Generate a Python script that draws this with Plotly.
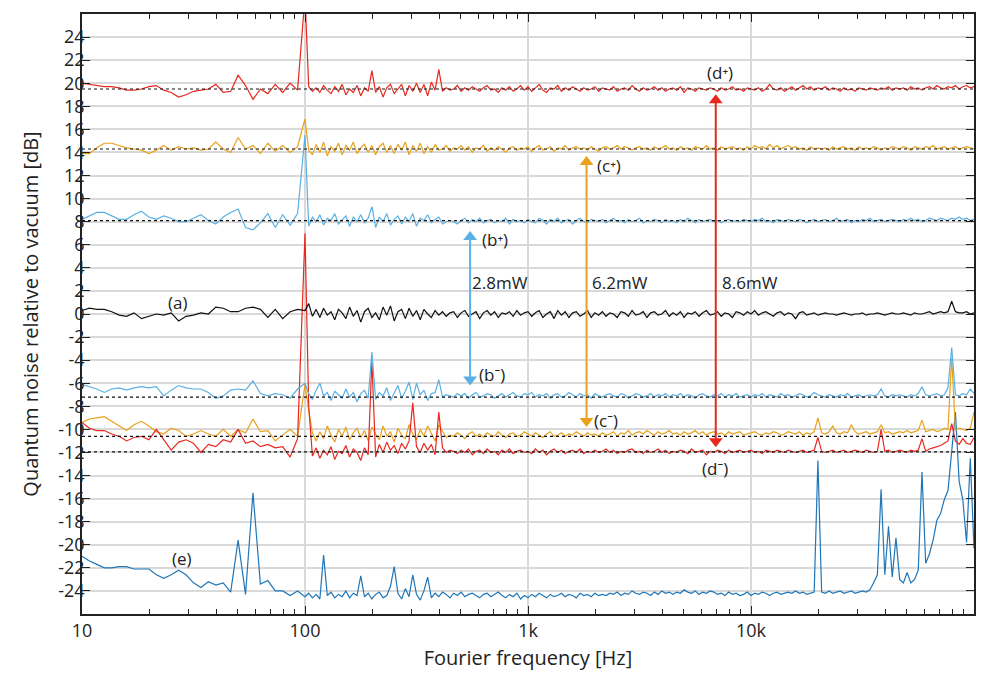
import numpy as np
import plotly.graph_objects as go

# Frequency bins: 30 log bins in 10-100 Hz, then 60 per decade up to 100 kHz
F_LOW = np.geomspace(10, 100, 31)[:-1]
F_HIGH = np.geomspace(100, 1e5, 181)
freq = np.concatenate([F_LOW, F_HIGH])

# Noise spectra relative to vacuum [dB]
d_plus = [
    20.0, 19.9, 19.8, 19.7, 19.7, 19.6, 19.4, 19.4, 19.5, 19.7,
    19.8, 19.4, 19.2, 18.8, 19.0, 19.3, 19.4, 19.5, 19.9, 19.2,
    19.3, 20.7, 19.8, 18.6, 19.5, 19.1, 19.9, 19.2, 20.0, 19.4,
    27.5, 19.7, 19.3, 19.6, 19.2, 19.8, 19.4, 19.1, 19.7, 19.3,
    19.9, 19.0, 19.5, 19.2, 19.8, 18.9, 19.6, 19.3, 21.1, 19.2,
    19.7, 18.8, 19.6, 19.9, 19.1, 19.5, 19.9, 18.9, 19.8, 19.3,
    20.0, 19.2, 19.9, 18.9, 20.1, 19.4, 21.2, 19.3, 19.6, 19.4,
    19.5, 19.8, 19.3, 19.6, 19.4, 19.7, 19.5, 19.3, 19.6, 19.8,
    19.4, 19.5, 19.2, 19.6, 19.4, 19.7, 19.3, 19.5, 19.8, 19.4,
    19.7, 19.3, 19.6, 19.9, 19.4, 19.2, 19.6, 19.5, 19.8, 19.3,
    19.6, 19.4, 19.7, 19.5, 19.3, 19.6, 19.4, 19.5, 19.7, 19.3,
    19.6, 19.5, 19.4, 19.7, 19.3, 19.5, 19.6, 19.4, 19.8, 19.5,
    19.3, 19.6, 19.4, 19.5, 19.7, 19.4, 19.6, 19.3, 19.5, 19.6,
    19.4, 19.7, 19.2, 19.6, 19.5, 19.3, 19.6, 19.5, 19.4, 19.6,
    19.5, 19.3, 19.6, 19.4, 19.5, 19.7, 19.4, 19.5, 19.3, 19.6,
    19.5, 19.4, 19.6, 19.3, 19.5, 19.9, 19.5, 19.4, 19.6, 19.3,
    19.5, 19.7, 19.4, 19.6, 19.8, 19.5, 19.7, 19.4, 19.6, 19.5,
    19.7, 19.4, 19.6, 19.5, 19.3, 19.6, 19.4, 19.5, 19.3, 19.6,
    19.5, 19.4, 19.6, 19.5, 19.4, 19.6, 19.5, 19.7, 19.4, 19.6,
    19.5, 19.6, 19.4, 19.7, 19.5, 19.6, 19.4, 19.6, 19.7, 19.5,
    19.8, 19.6, 19.5, 19.7, 19.6, 19.8, 19.5, 19.7, 19.8, 19.6,
    19.7,
]

c_plus = [
    13.9, 13.9, 14.4, 14.8, 14.8, 14.6, 14.4, 14.3, 14.2, 13.9,
    14.2, 14.6, 14.2, 14.5, 14.3, 14.4, 14.2, 14.3, 14.9, 14.3,
    14.0, 15.3, 14.3, 14.6, 13.9, 14.8, 14.1, 14.6, 14.0, 14.5,
    16.9, 14.2, 13.8, 14.7, 14.0, 14.9, 13.7, 14.5, 14.1, 14.8,
    13.8, 14.6, 14.2, 14.9, 13.9, 14.4, 14.7, 14.0, 14.6, 13.8,
    14.5, 14.8, 14.0, 14.6, 13.9, 14.7, 14.2, 14.9, 13.8, 14.6,
    14.1, 14.8, 13.9, 14.5, 14.0, 14.7, 14.2, 14.3, 14.6, 14.1,
    14.4, 14.3, 14.6, 14.2, 14.5, 14.0, 14.4, 14.3, 14.6, 14.1,
    14.4, 14.2, 14.5, 14.3, 14.0, 14.4, 14.5, 14.2, 14.4, 14.3,
    14.5, 14.1, 14.4, 14.6, 14.2, 14.3, 14.5, 14.1, 14.4, 14.3,
    14.6, 14.2, 14.4, 14.5, 14.3, 14.4, 14.2, 14.5, 14.3, 14.1,
    14.4, 14.5, 14.3, 14.4, 14.6, 14.3, 14.5, 14.4, 14.2, 14.4,
    14.5, 14.3, 14.4, 14.2, 14.5, 14.3, 14.4, 14.6, 14.3, 14.4,
    14.2, 14.5, 14.3, 14.4, 14.2, 14.5, 14.4, 14.3, 14.6, 14.3,
    14.4, 14.2, 14.5, 14.3, 14.4, 14.5, 14.3, 14.4, 14.2, 14.5,
    14.3, 14.6, 14.4, 14.5, 14.3, 14.7, 14.4, 14.6, 14.3, 14.5,
    14.6, 14.4, 14.5, 14.3, 14.4, 14.2, 14.5, 14.3, 14.4, 14.3,
    14.4, 14.2, 14.5, 14.3, 14.4, 14.5, 14.3, 14.4, 14.2, 14.5,
    14.3, 14.4, 14.3, 14.5, 14.4, 14.2, 14.4, 14.3, 14.5, 14.4,
    14.3, 14.5, 14.4, 14.2, 14.5, 14.4, 14.3, 14.5, 14.4, 14.6,
    14.3, 14.4, 14.5, 14.3, 14.4, 14.5, 14.3, 14.4, 14.5, 14.4,
    14.3,
]

b_plus = [
    8.2, 8.5, 8.8, 8.8, 8.5, 8.2, 8.2, 8.6, 8.9, 8.4,
    8.2, 8.5, 8.3, 8.0, 8.0, 8.3, 8.6, 8.1, 7.8, 8.4,
    8.8, 9.1, 7.5, 7.3, 7.9, 8.7, 7.5, 8.6, 7.7, 8.7,
    15.5, 7.6, 8.4, 8.0, 8.6, 7.7, 8.3, 8.1, 8.7, 7.8,
    8.2, 8.5, 7.6, 8.4, 8.0, 8.6, 7.9, 8.3, 9.3, 7.5,
    8.4, 8.0, 8.7, 7.7, 8.2, 8.5, 7.8, 8.4, 8.0, 8.7,
    7.6, 8.3, 8.1, 8.6, 7.9, 8.2, 8.4, 7.8, 8.0, 8.1,
    8.0, 7.8, 8.1, 8.3, 7.9, 8.2, 8.0, 8.3, 7.9, 8.1,
    8.2, 7.9, 8.1, 8.0, 8.3, 7.8, 8.2, 8.0, 8.1, 7.9,
    8.2, 8.0, 7.9, 8.3, 8.1, 7.8, 8.2, 8.0, 8.3, 7.9,
    8.1, 8.2, 7.8, 8.1, 8.3, 8.0, 7.9, 8.2, 8.1, 8.0,
    8.2, 7.9, 8.1, 8.3, 8.0, 8.1, 7.9, 8.2, 8.0, 8.1,
    8.3, 7.9, 8.1, 8.0, 8.2, 8.1, 7.9, 8.2, 8.0, 8.1,
    7.9, 8.2, 8.0, 8.3, 8.1, 7.9, 8.2, 8.0, 8.1, 8.2,
    8.0, 8.1, 7.9, 8.1, 8.2, 8.0, 8.1, 8.0, 8.2, 8.1,
    8.0, 8.2, 8.1, 8.3, 8.0, 8.1, 7.9, 8.2, 8.1, 8.0,
    8.2, 8.1, 8.0, 8.2, 8.1, 7.9, 8.1, 8.2, 8.0, 8.1,
    8.2, 8.0, 8.1, 8.3, 8.0, 8.1, 8.2, 7.9, 8.1, 8.0,
    8.2, 8.1, 8.3, 8.0, 8.1, 8.2, 8.0, 8.1, 8.2, 8.1,
    8.0, 8.2, 8.1, 8.3, 8.1, 8.2, 8.0, 8.1, 8.3, 8.2,
    8.1, 8.3, 8.2, 8.1, 8.3, 8.2, 8.4, 8.2, 8.3, 8.1,
    8.2,
]

a_vac = [
    0.3, 0.5, 0.4, 0.4, 0.2, -0.1, -0.2, 0.1, -0.4, -0.2,
    0.0, -0.1, 0.1, -0.6, -0.2, -0.1, 0.1, 0.0, 0.6, 0.5,
    0.2, 0.2, 0.5, 0.6, 0.4, -0.3, 0.4, -0.4, 0.2, 0.4,
    0.3, 0.9, -0.2, 0.4, -0.3, 0.5, -0.1, 0.2, -0.5, 0.4,
    0.1, -0.4, 0.6, -0.2, 0.3, -0.7, 0.2, 0.5, -0.3, 0.1,
    -0.5, 0.6, -0.1, 0.7, -0.6, 0.2, 0.4, -0.4, 0.5, -0.2,
    0.3, -0.5, 0.4, 0.0, -0.3, 0.3, -0.1, 0.2, -0.2, 0.1,
    0.2, -0.3, 0.1, 0.3, -0.2, 0.0, 0.2, -0.4, 0.1, 0.3,
    -0.1, 0.2, -0.3, 0.1, 0.0, 0.2, -0.2, 0.3, -0.1, 0.1,
    0.2, -0.2, 0.1, 0.3, -0.3, 0.0, 0.2, -0.4, 0.3, -0.1,
    0.2, -0.3, 0.1, 0.2, -0.2, 0.0, 0.3, -0.3, 0.1, -0.1,
    0.2, -0.2, 0.1, 0.0, -0.3, 0.2, 0.1, -0.2, 0.3, -0.1,
    0.0, 0.2, -0.3, 0.1, 0.2, -0.1, 0.0, 0.3, -0.2, 0.1,
    -0.1, 0.2, -0.3, 0.1, 0.0, 0.2, -0.2, 0.1, 0.3, -0.1,
    0.0, 0.2, -0.2, 0.1, 0.0, -0.3, 0.2, 0.1, -0.1, 0.2,
    0.0, 0.3, -0.1, 0.1, 0.2, 0.0, -0.2, 0.1, 0.2, -0.1,
    0.1, 0.0, -0.4, 0.1, 0.2, -0.1, 0.0, 0.1, -0.1, 0.0,
    0.1, 0.0, 0.0, -0.1, 0.0, 0.1, 0.0, -0.1, 0.0, 0.0,
    0.1, -0.1, 0.0, 0.0, 0.1, 0.0, -0.1, 0.0, 0.1, 0.0,
    0.0, 0.1, 0.0, -0.1, 0.1, 0.0, 0.0, 0.1, 0.2, 0.0,
    0.1, 0.2, 0.1, 0.2, 1.1, 0.2, 0.1, 0.1, 0.2, 0.0,
    0.1,
]

b_minus = [
    -6.1, -6.3, -6.5, -6.8, -6.5, -6.4, -6.6, -6.4, -6.3, -6.4,
    -6.3, -7.1, -6.6, -6.2, -6.4, -6.5, -6.5, -6.8, -7.3, -7.1,
    -6.6, -6.5, -6.6, -5.8, -6.9, -7.1, -6.9, -7.0, -7.3, -6.5,
    -6.0, -6.9, -7.4, -6.6, -6.0, -7.1, -6.8, -7.5, -6.7, -7.0,
    -7.3, -6.5, -7.2, -6.8, -7.6, -6.9, -6.6, -7.3, -3.3, -7.4,
    -6.8, -7.1, -6.4, -7.5, -6.9, -6.2, -7.3, -6.7, -5.9, -7.4,
    -6.0, -7.0, -6.6, -7.5, -6.9, -6.8, -5.7, -7.2, -7.0, -7.1,
    -7.2, -6.9, -7.1, -6.9, -7.3, -7.0, -6.8, -7.2, -7.1, -6.9,
    -7.0, -7.3, -7.1, -6.9, -7.2, -7.0, -6.8, -7.1, -7.2, -6.9,
    -7.0, -6.8, -7.2, -7.0, -7.1, -6.9, -7.3, -7.0, -6.9, -7.2,
    -7.1, -6.8, -7.0, -7.2, -6.9, -7.1, -7.0, -7.3, -6.9, -7.1,
    -7.2, -7.0, -6.9, -7.1, -7.2, -6.9, -7.0, -7.3, -7.1, -6.9,
    -7.0, -7.2, -7.1, -6.9, -7.2, -7.0, -7.1, -6.9, -7.2, -7.0,
    -7.1, -6.9, -7.2, -7.0, -7.1, -7.3, -7.0, -6.9, -7.1, -7.2,
    -7.0, -7.1, -6.9, -7.2, -7.0, -7.1, -6.9, -7.2, -7.1, -7.0,
    -7.2, -7.0, -7.1, -6.9, -7.2, -7.0, -7.1, -7.2, -6.9, -7.1,
    -7.0, -7.2, -7.1, -6.9, -7.0, -7.2, -7.1, -6.8, -7.0, -7.1,
    -7.2, -7.0, -7.1, -7.2, -7.0, -7.1, -6.9, -7.2, -7.1, -7.0,
    -7.2, -7.1, -7.0, -7.1, -7.0, -6.5, -7.1, -7.2, -7.0, -7.1,
    -7.0, -7.1, -7.2, -7.0, -7.1, -6.9, -6.3, -7.0, -7.1, -7.0,
    -6.9, -7.1, -7.0, -6.4, -2.9, -7.0, -7.1, -6.9, -7.0, -6.5,
    -6.9,
]

c_minus = [
    -9.4, -9.1, -9.0, -8.9, -9.3, -9.7, -10.1, -9.6, -9.3, -9.7,
    -10.2, -10.4, -9.9, -10.1, -10.6, -10.4, -10.1, -10.4, -10.6, -10.0,
    -10.6, -10.0, -10.3, -9.1, -10.2, -10.1, -11.0, -10.5, -10.0, -10.6,
    -6.1, -8.4, -10.3, -11.0, -10.2, -10.8, -9.7, -10.5, -11.1, -10.0,
    -10.6, -9.8, -10.9, -10.3, -9.9, -10.7, -10.1, -11.0, -9.8, -10.4,
    -10.9, -9.7, -10.6, -10.2, -11.1, -9.9, -10.5, -10.8, -9.6, -10.4,
    -10.9, -10.0, -10.6, -9.7, -10.3, -11.0, -9.6, -10.2, -10.7, -10.5,
    -10.6, -10.3, -10.5, -10.8, -10.4, -10.2, -10.6, -10.4, -10.7, -10.3,
    -10.5, -10.6, -10.2, -10.5, -10.7, -10.4, -10.3, -10.6, -10.5, -10.2,
    -10.4, -10.6, -10.3, -10.5, -10.7, -10.4, -10.2, -10.6, -10.5, -10.3,
    -10.6, -10.4, -10.5, -10.2, -10.4, -10.6, -10.3, -10.5, -10.4, -10.6,
    -10.3, -10.5, -10.4, -10.2, -10.6, -10.3, -10.4, -10.1, -10.5, -10.3,
    -10.2, -10.4, -10.1, -10.3, -10.5, -10.2, -10.4, -10.3, -10.1, -10.4,
    -10.3, -10.5, -10.2, -10.4, -10.3, -10.1, -10.4, -10.2, -10.5, -10.3,
    -10.2, -10.4, -10.3, -10.5, -10.2, -10.4, -10.3, -10.2, -10.5, -10.4,
    -10.3, -10.2, -10.4, -10.5, -10.3, -10.4, -10.2, -10.3, -10.5, -10.4,
    -10.2, -10.3, -10.4, -10.2, -10.5, -10.3, -10.4, -10.2, -9.0, -10.3,
    -10.4, -10.2, -9.7, -10.3, -10.4, -10.2, -10.3, -9.6, -10.2, -10.4,
    -10.3, -10.2, -10.4, -10.3, -10.2, -9.6, -10.3, -10.2, -10.4, -10.3,
    -10.2, -10.3, -10.1, -10.3, -10.2, -10.1, -9.2, -10.2, -10.1, -10.0,
    -10.2, -10.1, -9.9, -10.0, -3.8, -10.1, -9.9, -10.0, -10.1, -9.9,
    -8.5,
]

d_minus = [
    -9.4, -9.9, -10.1, -10.1, -10.4, -10.6, -11.0, -10.7, -10.6, -10.9,
    -10.0, -10.9, -11.8, -11.1, -10.9, -11.2, -12.0, -11.3, -11.5, -10.9,
    -11.1, -10.0, -11.2, -11.0, -11.5, -11.3, -11.6, -11.5, -12.4, -10.8,
    7.0, -8.0, -12.3, -11.6, -12.5, -11.8, -12.2, -11.5, -12.6, -11.9,
    -12.1, -11.4, -12.4, -11.7, -12.0, -12.7, -11.6, -12.2, -4.0, -12.4,
    -11.3, -12.0, -11.1, -11.8, -11.4, -12.1, -11.2, -11.7, -11.0, -7.7,
    -11.5, -12.0, -11.2, -11.8, -11.3, -12.2, -8.5, -11.6, -12.0, -11.8,
    -11.9, -12.1, -11.8, -12.0, -11.7, -12.2, -11.9, -11.8, -12.1, -11.7,
    -12.0, -11.9, -12.2, -11.8, -12.0, -11.7, -12.1, -11.9, -11.8, -12.0,
    -11.9, -12.1, -11.7, -12.0, -11.8, -12.2, -11.9, -11.7, -12.0, -11.8,
    -12.1, -11.9, -11.8, -12.0, -11.7, -12.1, -11.9, -12.0, -11.8, -12.0,
    -11.9, -11.7, -12.0, -11.8, -12.1, -11.9, -12.0, -11.8, -11.7, -12.0,
    -11.9, -12.1, -11.8, -12.0, -11.9, -11.7, -12.0, -11.8, -12.1, -11.9,
    -12.0, -11.8, -11.9, -12.1, -11.7, -12.0, -11.9, -11.8, -12.2, -11.9,
    -12.0, -11.8, -11.9, -12.1, -11.8, -12.0, -11.9, -11.8, -12.0, -11.9,
    -11.8, -12.0, -11.9, -12.1, -11.8, -11.9, -12.0, -11.8, -11.9, -12.0,
    -11.8, -11.9, -12.0, -11.9, -11.8, -12.0, -11.9, -11.8, -10.7, -11.9,
    -12.0, -11.9, -11.8, -12.0, -11.9, -11.8, -12.0, -11.9, -11.8, -11.9,
    -12.0, -11.8, -11.9, -12.0, -11.9, -10.0, -11.9, -11.8, -12.0, -11.9,
    -11.8, -11.9, -12.0, -11.8, -11.9, -11.8, -10.8, -11.9, -11.7, -11.6,
    -11.5, -11.4, -11.2, -11.0, -9.5, -11.0, -11.3, -10.8, -11.2, -11.3,
    -10.7,
]

e_dark = [
    -21.0, -21.4, -21.7, -22.0, -22.0, -21.9, -21.9, -22.1, -22.1, -22.1,
    -22.6, -22.9, -22.6, -22.2, -22.6, -23.3, -23.7, -23.2, -23.5, -23.3,
    -24.1, -19.6, -24.3, -15.5, -23.4, -23.1, -24.0, -24.0, -24.4, -24.0,
    -24.5, -24.2, -24.6, -24.3, -24.7, -20.9, -24.4, -24.1, -24.6, -24.3,
    -24.5, -24.0, -24.6, -24.2, -24.4, -22.7, -24.5, -24.2, -24.7, -24.3,
    -24.1, -24.6, -24.4, -23.6, -21.9, -24.2, -24.7, -23.8, -24.5, -22.6,
    -24.3, -24.8, -24.0, -22.8, -24.6, -24.2, -24.5, -24.1, -24.3, -24.6,
    -24.2, -24.4, -24.1, -24.5, -24.3, -24.2, -24.4, -24.6, -24.3, -24.2,
    -24.5, -24.3, -24.1, -24.4, -24.6, -24.3, -24.5, -24.2, -24.7, -24.4,
    -24.6, -24.3, -24.5, -24.2, -24.4, -24.6, -24.3, -24.5, -24.4, -24.2,
    -24.5, -24.3, -24.4, -24.6, -24.2, -24.4, -24.3, -24.5, -24.2, -24.4,
    -24.3, -24.4, -24.2, -24.3, -24.1, -24.4, -24.2, -24.3, -24.0, -24.2,
    -24.3, -24.1, -24.2, -24.4, -24.1, -24.3, -24.0, -24.2, -24.1, -24.3,
    -24.1, -24.2, -23.9, -24.1, -24.2, -24.0, -24.3, -24.1, -24.2, -24.0,
    -24.1, -24.3, -24.2, -24.4, -24.1, -24.3, -24.2, -24.4, -24.3, -24.1,
    -24.4, -24.2, -24.3, -24.1, -24.2, -24.4, -24.2, -24.1, -24.3, -24.2,
    -24.1, -24.2, -24.0, -24.2, -24.1, -24.3, -24.2, -24.1, -12.7, -24.1,
    -24.2, -24.0, -24.2, -24.1, -24.0, -24.2, -24.1, -24.0, -24.2, -24.1,
    -24.0, -24.1, -23.9, -23.3, -22.6, -15.2, -22.6, -18.4, -22.8, -19.4,
    -23.0, -23.3, -22.4, -23.3, -23.0, -22.2, -13.7, -21.6, -20.8, -19.6,
    -17.9, -17.3, -16.1, -15.3, -12.0, -8.5, -14.5, -16.1, -19.8, -12.5,
    -20.3,
]

# Shot-noise-limited levels of the anti-squeezed / squeezed quadratures [dB]
REF_LEVELS = [19.5, 14.3, 8.1, -7.2, -10.6, -11.95]

RED = "#e8281e"
ORANGE = "#e9a21b"
LIGHT_BLUE = "#5ab0e4"
DARK_BLUE = "#1f76b8"

traces = [
    (e_dark, DARK_BLUE),
    (c_minus, ORANGE),
    (d_minus, RED),
    (b_minus, LIGHT_BLUE),
    (a_vac, "#111111"),
    (b_plus, LIGHT_BLUE),
    (c_plus, ORANGE),
    (d_plus, RED),
]

# Pump-power arrows: frequency, top tip, bottom tip, colour, power label
ARROW_FREQ = [550, 1830, 6950]
ARROW_TOP = [7.2, 13.7, 19.05]
ARROW_BOTTOM = [-6.2, -9.8, -11.55]
ARROW_COLORS = [LIGHT_BLUE, ORANGE, RED]
POWER_TEXT = ["2.8mW", "6.2mW", "8.6mW"]
POWER_FREQ = [748, 2590, 9900]
POWER_Y = [2.7, 2.7, 2.7]

# Curve labels
LABEL_TEXT = ["(a)", "(b\u207a)", "(b\u207b)", "(c\u207a)",
              "(c\u207b)", "(d\u207a)", "(d\u207b)", "(e)"]
LABEL_FREQ = [26.9, 711, 690, 2310, 2240, 7260, 6900, 28.0]
LABEL_Y = [1.0, 6.45, -5.2, 12.9, -9.2, 20.9, -13.4, -21.2]

X_TICKS = [10, 100, 1000, 10000, 100000]
X_TICK_TEXT = ["10", "100", "1k", "10k", "100k"]
Y_TICKS = list(range(-24, 25, 2))
Y_RANGE = [-26, 26]

FONT = "Open Sans, Noto Sans, DejaVu Sans, sans-serif"
TEXT_COLOR = "#222222"

PLOT_H = 678 - 14 - 60
HEAD = 12                                   # arrowhead marker size [px]
head_off = (HEAD / 2) * (Y_RANGE[1] - Y_RANGE[0]) / PLOT_H  # tip offset [dB]

fig = go.Figure()
for vals, col in traces:
    fig.add_trace(go.Scatter(x=freq, y=vals, mode="lines",
                             line=dict(color=col, width=1.2),
                             showlegend=False, hoverinfo="skip"))

for lvl in REF_LEVELS:
    fig.add_shape(type="line", xref="x domain", yref="y", x0=0, x1=1,
                  y0=lvl, y1=lvl, layer="above",
                  line=dict(color="#111111", width=1.2, dash="dot"))

# Double-headed arrows: shaft plus triangle heads whose tips sit on the ends
for f, yt, yb, col in zip(ARROW_FREQ, ARROW_TOP, ARROW_BOTTOM, ARROW_COLORS):
    fig.add_trace(go.Scatter(x=[f, f], y=[yb + head_off, yt - head_off],
                             mode="lines", line=dict(color=col, width=2),
                             showlegend=False, hoverinfo="skip"))
    fig.add_trace(go.Scatter(x=[f, f], y=[yt - head_off, yb + head_off],
                             mode="markers",
                             marker=dict(symbol=["triangle-up", "triangle-down"],
                                         size=HEAD, color=col,
                                         line=dict(width=0)),
                             showlegend=False, hoverinfo="skip"))

for t, f, y in zip(POWER_TEXT, POWER_FREQ, POWER_Y):
    fig.add_annotation(x=np.log10(f), y=y, text=t, showarrow=False,
                       font=dict(family=FONT, size=17, color=TEXT_COLOR))

for t, f, y in zip(LABEL_TEXT, LABEL_FREQ, LABEL_Y):
    fig.add_annotation(x=np.log10(f), y=y, text=t, showarrow=False,
                       font=dict(family=FONT, size=17, color=TEXT_COLOR))

axis_common = dict(showline=True, linecolor=TEXT_COLOR, linewidth=1.5,
                   mirror="ticks", ticks="inside", tickcolor=TEXT_COLOR,
                   tickwidth=1.2, ticklen=8, gridcolor="#d9d9d9",
                   gridwidth=1.5, zeroline=False,
                   tickfont=dict(family=FONT, size=18, color=TEXT_COLOR))

fig.update_xaxes(type="log", range=[1, 5], tickvals=X_TICKS,
                 ticktext=X_TICK_TEXT,
                 minor=dict(ticks="inside", ticklen=5, tickcolor=TEXT_COLOR,
                            showgrid=False,
                            tickvals=[m * 10 ** d for d in range(1, 5)
                                      for m in range(2, 10)]),
                 title=dict(text="Fourier frequency [Hz]", standoff=10,
                            font=dict(family=FONT, size=20, color=TEXT_COLOR)),
                 **axis_common)
fig.update_yaxes(range=Y_RANGE, tickvals=Y_TICKS,
                 ticktext=[str(v) for v in Y_TICKS], ticklabelstandoff=-8,
                 title=dict(text="Quantum noise relative to vacuum [dB]",
                            standoff=14,
                            font=dict(family=FONT, size=20, color=TEXT_COLOR)),
                 **axis_common)

fig.update_layout(width=988, height=678,
                  margin=dict(l=82, r=13, t=14, b=60),
                  paper_bgcolor="white", plot_bgcolor="white",
                  showlegend=False)

fig.write_html("out.html", config={"displayModeBar": False})
